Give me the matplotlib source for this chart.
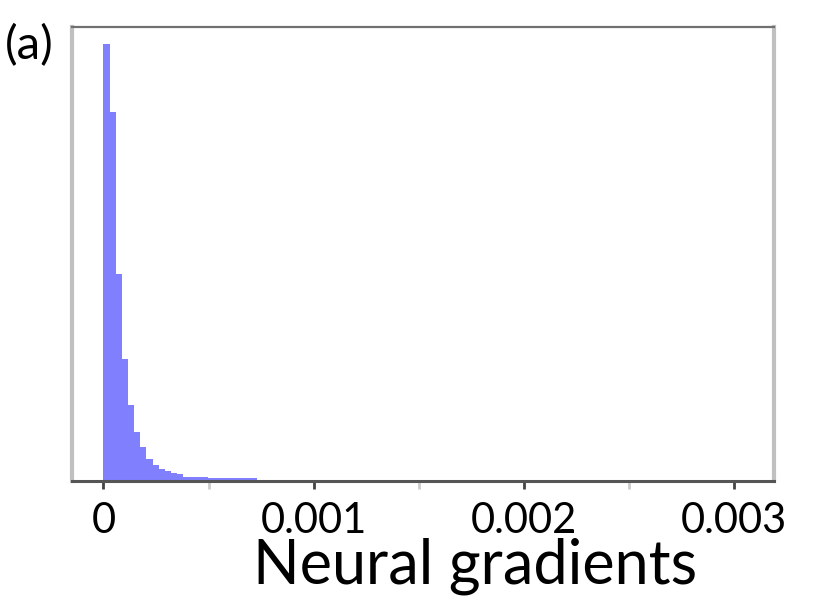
import numpy as np
import matplotlib.pyplot as plt

# histogram of neural gradient magnitudes (relative counts)
bin_edges = np.linspace(0.0, 0.00073, 26)
counts = [1000, 845, 474, 280, 174, 113, 78, 51, 36, 28, 23, 18, 15,
          9, 9, 9, 9, 7, 7, 7, 7, 7, 7, 7, 7]
major_ticks = [0, 0.001, 0.002, 0.003]
major_labels = ["0", "0.001", "0.002", "0.003"]
minor_ticks = [0.0005, 0.0015, 0.0025]

plt.rcParams["font.family"] = ["Lato", "DejaVu Sans"]

fig = plt.figure(figsize=(8.32, 6.04), dpi=100)
ax = fig.add_axes([0.0865, 0.2036, 0.8435, 0.7514])

ax.hist(bin_edges[:-1], bins=bin_edges, weights=counts, color="#8080ff",
        edgecolor="none")

ax.set_xlim(-0.00015, 0.00319)
ax.set_ylim(0, 1038)
ax.set_yticks([])

ax.set_xticks(major_ticks)
ax.set_xticklabels(major_labels, fontsize=30)
ax.set_xticks(minor_ticks, minor=True)
ax.tick_params(axis="x", which="major", length=6, width=2, color="#444444",
               pad=9)
ax.tick_params(axis="x", which="minor", length=6, width=2, color="#cccccc")

ax.spines["left"].set_color("#c0c0c0")
ax.spines["left"].set_linewidth(3)
ax.spines["right"].set_color("#c0c0c0")
ax.spines["right"].set_linewidth(3)
ax.spines["bottom"].set_color("#555555")
ax.spines["bottom"].set_linewidth(2.2)
ax.spines["top"].set_color("#707070")
ax.spines["top"].set_linewidth(1.6)

ax.set_xlabel("Neural gradients", fontsize=44)
ax.xaxis.set_label_coords(0.574, -0.125)

fig.text(0.006, 0.925, "(a)", fontsize=34, ha="left", va="center")

fig.savefig("out.png", dpi=100, facecolor="white")
